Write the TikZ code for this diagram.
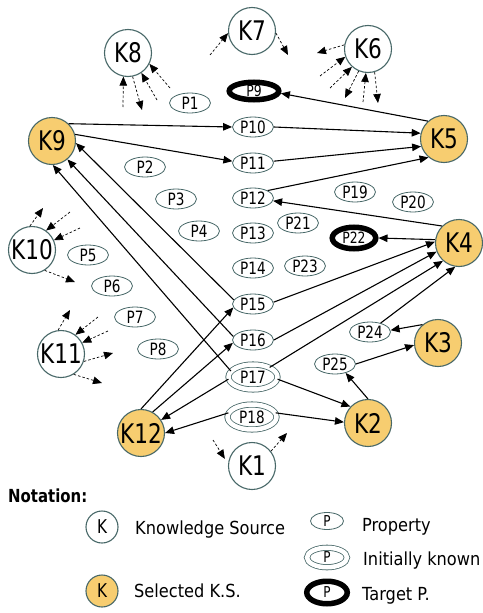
\documentclass[tikz,border=0pt]{standalone}
\usepackage{fontspec}
\usetikzlibrary{shapes.geometric,arrows.meta}
\newfontfamily\labfont[FakeStretch=0.8]{DejaVu Sans}
\newfontfamily\legfont[FakeStretch=0.9]{DejaVu Sans}
\newfontfamily\notefont[FakeStretch=0.83]{DejaVu Sans}
\definecolor{ksfill}{RGB}{247,205,112}
\definecolor{rim}{RGB}{72,104,104}

\begin{document}
\begin{tikzpicture}[x=1pt,y=-1pt,
  ks/.style={circle, draw=rim, line width=1.1pt, fill=white, minimum size=47pt,
    inner sep=0pt, font=\labfont\fontsize{27}{27}\selectfont},
  sel/.style={ks, fill=ksfill},
  prop/.style={ellipse, draw=rim, line width=0.8pt, fill=white, minimum width=41pt,
    minimum height=20pt, inner sep=0pt, font=\labfont\fontsize{17}{17}\selectfont},
  known/.style={prop, double=white, double distance=4.5pt, minimum width=49pt, minimum height=25pt},
  target/.style={prop, draw=black, line width=5.5pt, font=\labfont\fontsize{15.5}{15.5}\selectfont},
  link/.style={-{Triangle[length=9pt,width=7.5pt]}, line width=1.1pt},
  stub/.style={-{Triangle[length=9pt,width=7.5pt]}, line width=0.7pt, dash pattern=on 2.5pt off 2pt},
  legtext/.style={anchor=base west, inner sep=0pt, font=\legfont\fontsize{18}{18}\selectfont},
]
\path[use as bounding box] (0,0) rectangle (482,613);

% knowledge sources
\node[ks]  (K8)  at (128,53)  {K8};
\node[ks]  (K7)  at (252,31)  {K7};
\node[ks]  (K6)  at (368,49)  {K6};
\node[sel] (K9)  at (52,141)  {K9};
\node[sel] (K5)  at (444,139) {K5};
\node[ks]  (K10) at (32,250)  {K10};
\node[sel] (K4)  at (459,243) {K4};
\node[ks]  (K11) at (61,354)  {K11};
\node[sel] (K3)  at (438,343) {K3};
\node[sel] (K12) at (141,433) {K12};
\node[sel] (K2)  at (368,423) {K2};
\node[ks]  (K1)  at (252,466) {K1};

% properties
\node[prop] (P1)  at (190,103) {P1};
\node[prop] (P2)  at (145,167) {P2};
\node[prop] (P3)  at (176,199) {P3};
\node[prop] (P4)  at (199,231) {P4};
\node[prop] (P5)  at (88,255)  {P5};
\node[prop] (P6)  at (112,286) {P6};
\node[prop] (P7)  at (135,317) {P7};
\node[prop] (P8)  at (158,349) {P8};
\node[target, minimum width=49.5pt, minimum height=17.5pt] (P9) at (254,91) {P9};
\node[prop] (P10) at (253,127) {P10};
\node[prop] (P11) at (253,163) {P11};
\node[prop] (P12) at (253,198) {P12};
\node[prop] (P13) at (253,233) {P13};
\node[prop] (P14) at (253,268) {P14};
\node[prop] (P15) at (253,304) {P15};
\node[prop] (P16) at (253,340) {P16};
\node[known] (P17) at (253,377) {P17};
\node[known] (P18) at (252,417) {P18};
\node[prop] (P19) at (355,192) {P19};
\node[prop] (P20) at (413,202) {P20};
\node[prop] (P21) at (298,223) {P21};
\node[target, minimum width=43.5pt, minimum height=21.5pt] (P22) at (354,238) {P22};
\node[prop] (P23) at (305,266) {P23};
\node[prop] (P24) at (370,332) {P24};
\node[prop] (P25) at (335,364) {P25};

% links between sources and properties
\draw[link] (K9.46) -- (P10.west);
\draw[link] (K9.16) -- (P11.175);
\draw[link] (P10.east) -- (K5.166);
\draw[link] (P11.5) -- (K5.198);
\draw[link] (P12.27) -- (K5.230);
\draw[link] (K5.132) -- (P9.-5);
\draw[link] (K4.135) -- (P12.-8);
\draw[link] (K4.172) -- (P22.east);
\draw[link] (P15.5) -- (K4.177);
\draw[link] (P16.east) -- (K4.201);
\draw[link] (P17.30) -- (K4.228);
\draw[link] (P24.40) -- (K4.261);
\draw[link] (K3.130) -- (P24.5);
\draw[link] (P25.east) -- (K3.185);
\draw[link] (K2.90) -- (P25.-40);
\draw[link] (P17.-5) -- (K2.137);
\draw[link] (P18.10) -- (K2.178);
\draw[link] (P18.170) -- (K12.0);
\draw[link] (P17.185) -- (K12.33);
\draw[link] (K12.90) -- (P15.190);
\draw[link] (K12.61) -- (P16.188);
\draw[link] (P15.168) -- (K9.-5);
\draw[link] (P16.170) -- (K9.-50);
\draw[link] (P17.165) -- (K9.-88);

% loose ends of other sources
\coordinate (k8a) at (123,107);
\coordinate (k8b) at (142,110);
\coordinate (k8c) at (157,100);
\coordinate (k8d) at (170,88);
\draw[stub] (k8a) -- (K8.-101);
\draw[stub] (K8.-79) -- (k8b);
\draw[stub] (k8c) -- (K8.-56);
\draw[stub] (k8d) -- (K8.-27);

\coordinate (k7a) at (210,55);
\coordinate (k7b) at (288,55);
\draw[stub] (k7a) -- (K7.185);
\draw[stub] (K7.-5) -- (k7b);

\coordinate (k6a) at (317,53);
\coordinate (k6b) at (320,76);
\coordinate (k6c) at (330,88);
\coordinate (k6d) at (345,98);
\coordinate (k6e) at (363,102);
\coordinate (k6f) at (378,103);
\draw[stub] (K6.170) -- (k6a);
\draw[stub] (k6b) -- (K6.199);
\draw[stub] (k6c) -- (K6.228);
\draw[stub] (K6.-113) -- (k6d);
\draw[stub] (k6e) -- (K6.-95);
\draw[stub] (K6.-74) -- (k6f);

\coordinate (k10a) at (43,208);
\coordinate (k10b) at (70,212);
\coordinate (k10c) at (80,228);
\coordinate (k10d) at (75,282);
\draw[stub] (K10.95) -- (k10a);
\draw[stub] (k10b) -- (K10.54);
\draw[stub] (k10c) -- (K10.24);
\draw[stub] (K10.-58) -- (k10d);

\coordinate (k11a) at (70,310);
\coordinate (k11b) at (98,317);
\coordinate (k11c) at (108,331);
\coordinate (k11d) at (113,353);
\coordinate (k11e) at (102,383);
\draw[stub] (K11.97) -- (k11a);
\draw[stub] (k11b) -- (K11.53);
\draw[stub] (k11c) -- (K11.28);
\draw[stub] (K11.-18) -- (k11d);
\draw[stub] (K11.-58) -- (k11e);

\coordinate (k1a) at (213,440);
\coordinate (k1b) at (287,433);
\draw[stub, shorten >=6pt] (k1a) -- (K1.175);
\draw[stub] (K1.38) -- (k1b);

% notation
\node[anchor=base west, inner sep=0pt, font=\notefont\bfseries\fontsize{18}{18}\selectfont] (note) at (8,502.7) {Notation:};
\node[ks, minimum size=32pt, font=\labfont\fontsize{19}{19}\selectfont] (LK) at (102,527) {K};
\node[sel, minimum size=32pt, font=\labfont\fontsize{19}{19}\selectfont] (LS) at (102,591) {K};
\node[prop, minimum width=33pt, minimum height=17pt, font=\labfont\fontsize{15}{15}\selectfont] (LP) at (327,521) {P};
\node[known, minimum width=40pt, minimum height=19.5pt, font=\labfont\fontsize{15}{15}\selectfont] (LI) at (327,557.5) {P};
\node[target, minimum width=40.5pt, minimum height=22.5pt, font=\labfont\fontsize{15}{15}\selectfont] (LT) at (327,592.5) {P};
\node[legtext] (tKS)   at (135,534) {Knowledge Source};
\node[legtext] (tSel)  at (134,597) {Selected K.S.};
\node[legtext] (tProp) at (362,531.7) {Property};
\node[legtext] (tInit) at (363,565) {Initially known};
\node[legtext] (tTarg) at (362,600) {Target P.};
\end{tikzpicture}
\end{document}
